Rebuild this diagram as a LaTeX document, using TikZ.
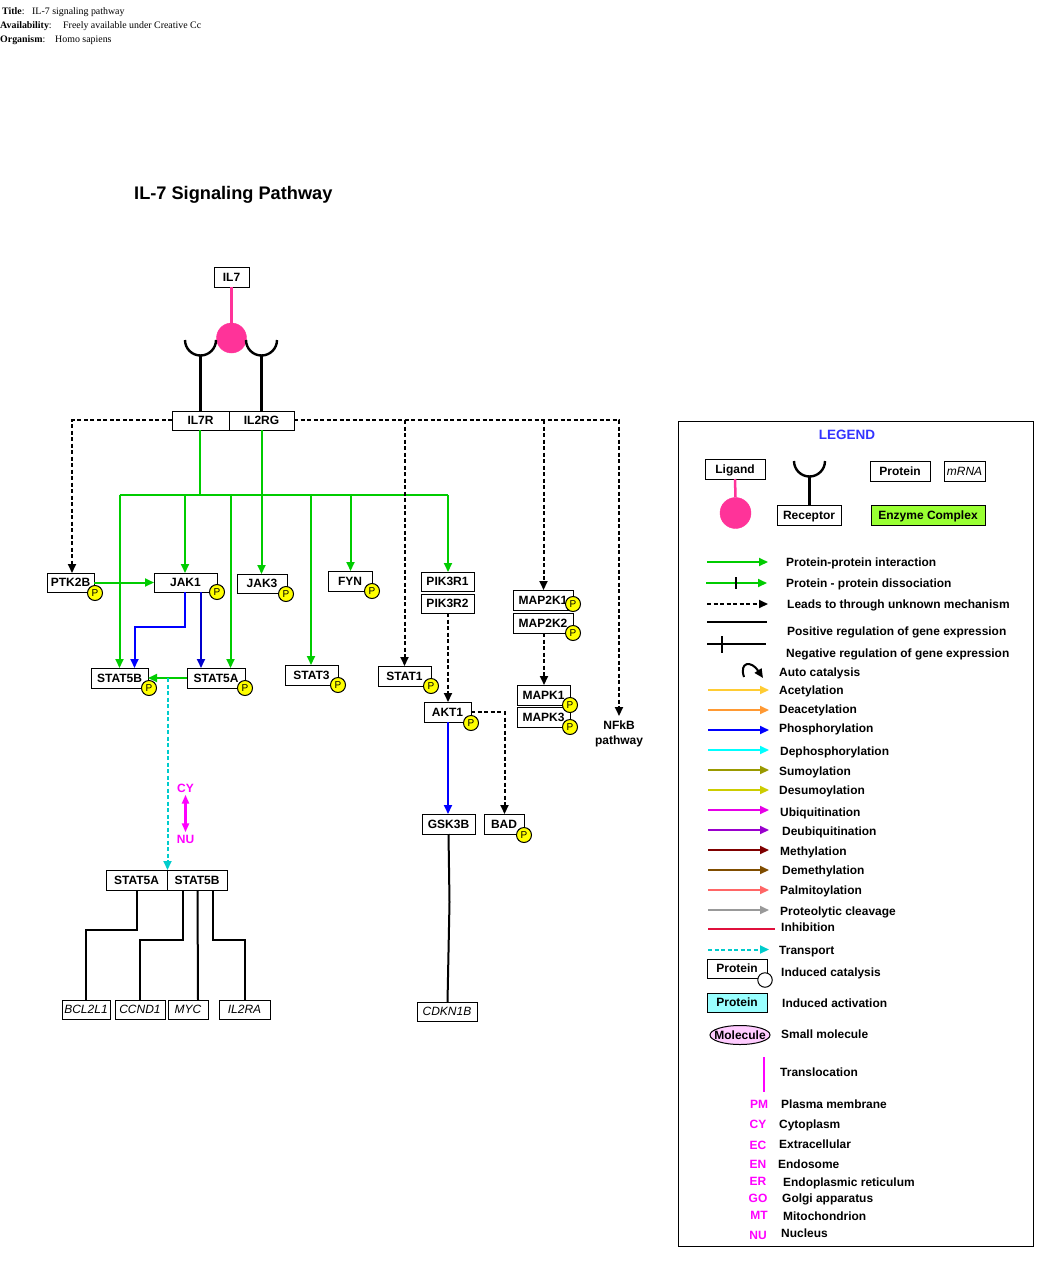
\documentclass[tikz,border=0pt]{standalone}
\usepackage{fontspec}
\setmainfont{Liberation Sans}
\newfontfamily\serifhead{Liberation Serif}
\usetikzlibrary{arrows.meta,shapes.geometric,calc}
\definecolor{grn}{HTML}{00CC00}
\definecolor{blu}{HTML}{0000FF}
\definecolor{dblu}{HTML}{0000CC}
\definecolor{pnk}{HTML}{FF3399}
\definecolor{cyn}{HTML}{00CCCC}
\definecolor{mag}{HTML}{FF00FF}
\definecolor{cya}{HTML}{00FFFF}
\definecolor{lcy}{HTML}{99FFFF}
\definecolor{lgr}{HTML}{99FF33}
\definecolor{lmg}{HTML}{FFCCFF}
\definecolor{ace}{HTML}{FFCC33}
\definecolor{dac}{HTML}{FF9933}
\definecolor{lblu}{HTML}{3333FF}
\definecolor{yel}{HTML}{FFFF00}
\newcommand{\bfn}{\fontsize{12}{14}\selectfont\bfseries}
\newcommand{\bfl}{\fontsize{11.95}{14}\selectfont\bfseries}
\newcommand{\itn}{\fontsize{12}{14}\selectfont\itshape}
\tikzset{
  tip/.style={-{Triangle[length=9pt,width=8pt]}},
  prot/.style={draw,fill=white,line width=1pt,inner sep=0pt,outer sep=0pt,font=\bfn,text height=10pt,text depth=1.5pt},
  gene/.style={prot,font=\itn},
  badge/.style={circle,draw,fill=yel,line width=1pt,inner sep=0pt,minimum size=15pt,font=\fontsize{10}{12}\selectfont},
  gr/.style={draw=grn,line width=2pt,tip},
  grl/.style={draw=grn,line width=2pt},
  bk/.style={draw=black,line width=2pt},
  dsh/.style={draw=black,line width=2pt,dash pattern=on 4pt off 2.5pt,tip},
  bl/.style={draw=blu,line width=2pt,tip},
  db/.style={draw=dblu,line width=2pt,tip},
  trn/.style={draw=cyn,line width=2pt,dash pattern=on 4pt off 2.5pt,tip},
  lab/.style={anchor=west,inner sep=0pt,font=\bfl,text height=10pt,text depth=1.5pt},
  comp/.style={anchor=center,inner sep=0pt,font=\bfn,text=mag,text height=9pt,text depth=0pt},
  head/.style={anchor=west,inner sep=0pt,font=\fontsize{9.9}{12}\selectfont\serifhead,text height=7pt,text depth=0pt},
  cup/.style={draw=black,line width=2.4pt},
  lig/.style={circle,draw=pnk,fill=pnk,inner sep=0pt,minimum size=30pt},
}
\newcommand{\bx}[7][prot]{\node[#1,minimum width={#5-#3},minimum height={#6-#4}] (#2) at ({(#3+#5)/2},{(#4+#6)/2}) {#7};}
\newcommand{\bdg}[3]{\node[badge] (#1) at (#2,#3) {P};}
\newcommand{\leg}[5]{\coordinate (#1a) at (#3,#5); \coordinate (#1b) at (#4,#5);
  \draw[draw=#2,line width=2pt,tip] (#1a) -- (#1b);}
\newcommand{\lt}[4]{\node[lab] (#1) at (#2,#3) {#4};}
\begin{document}
\begin{tikzpicture}[x=1pt,y=-1pt]
\useasboundingbox (0,0) rectangle (1063,1276);
% header
\node[head] (h1) at (2,11) {\textbf{Title}:};
\node[head] (h1v) at (32,11) {IL-7 signaling pathway};
\node[head] (h2) at (0,25) {\textbf{Availability}:};
\node[head] (h2v) at (63,25) {Freely available under Creative Cc};
\node[head] (h3) at (0,39) {\textbf{Organism}:};
\node[head] (h3v) at (55,39) {Homo sapiens};
\node[anchor=west,inner sep=0pt,font=\fontsize{18.2}{20}\selectfont\bfseries,text height=13pt,text depth=0pt] (ttl) at (134,193) {IL-7 Signaling Pathway};
% proteins
\bx{il7}{214}{267}{249}{287}{IL7}
\bx{il7r}{172}{411}{229}{430}{IL7R}
\bx{il2rg}{229}{411}{294}{430}{IL2RG}
\bx{ptk2b}{47}{573}{94}{592}{PTK2B}
\bx{jak1}{154}{573}{217}{592}{JAK1}
\bx{jak3}{237}{574}{287}{593}{JAK3}
\bx{fyn}{328}{571}{372}{591}{FYN}
\bx{pik3r1}{421}{572}{474}{591}{PIK3R1}
\bx{pik3r2}{421}{594}{474}{613}{PIK3R2}
\bx{map2k1}{513}{590}{573}{610}{MAP2K1}
\bx{map2k2}{513}{613}{573}{633}{MAP2K2}
\bx{stat5b}{91}{668}{148}{688}{STAT5B}
\bx{stat5a}{187}{668}{245}{688}{STAT5A}
\bx{stat3}{285}{665}{338}{685}{STAT3}
\bx{stat1}{378}{666}{431}{686}{STAT1}
\bx{akt1}{424}{702}{471}{722}{AKT1}
\bx{mapk1}{517}{685}{570}{705}{MAPK1}
\bx{mapk3}{517}{707}{570}{727}{MAPK3}
\bx{gsk3b}{422}{814}{475}{834}{GSK3B}
\bx{bad}{484}{814}{524}{834}{BAD}
\bx{nstat5a}{106}{870}{167}{890}{STAT5A}
\bx{nstat5b}{167}{870}{227}{890}{STAT5B}
\bx[gene]{bcl}{62}{1000}{110}{1019}{BCL2L1}
\bx[gene]{ccnd}{115}{1000}{165}{1019}{CCND1}
\bx[gene]{myc}{168}{1000}{208}{1019}{MYC}
\bx[gene]{il2ra}{219}{1000}{270}{1019}{IL2RA}
\bx[gene]{cdkn}{417}{1002}{477}{1021}{CDKN1B}
\node[align=center,inner sep=0pt,font=\bfn] (nfkb) at (619,733.5) {NFkB\\[1pt]pathway};
% ligand and receptors
\node[lig] (ligand) at (231.5,338) {};
\draw[draw=pnk,line width=2.5pt] (il7.south) -- (ligand.north);
\coordinate (cupL) at (200.5,356);
\coordinate (cupR) at (261.5,356);
\draw[cup] (185,340) arc[start angle=180,end angle=360,radius=15.5pt];
\draw[cup] (246,340) arc[start angle=180,end angle=360,radius=15.5pt];
\draw[bk,line width=2.6pt] (cupL) -- (cupL |- il7r.north);
\draw[bk,line width=2.6pt] (cupR) -- (cupR |- il2rg.north);
% green tree
\coordinate (tree) at (200,495);
\coordinate (d1) at (119.5,495);
\coordinate (d2) at (185,495);
\coordinate (d3) at (230.5,495);
\coordinate (d4) at (311,495);
\coordinate (d5) at (350.5,495);
\coordinate (d6) at (448,495);
\draw[grl,line width=1.5pt] (tree |- il7r.south) -- (tree);
\draw[grl] (d1) -- (d6);
\draw[gr] (d1) -- (d1 |- stat5b.north);
\draw[gr] (d2) -- (d2 |- jak1.north);
\draw[gr] (d3) -- (d3 |- stat5a.north);
\draw[gr] (d4) -- (d4 |- stat3.north);
\draw[gr] (d5) -- (d5 |- fyn.north);
\draw[gr] (d6) -- (d6 |- pik3r1.north);
\coordinate (j3x) at (261.5,495);
\draw[gr] (j3x |- il2rg.south) -- (j3x |- jak3.north);
% dashed from receptors
\coordinate (lx) at (72,420);
\coordinate (rx) at (619,420);
\coordinate (sx) at (404.5,420);
\coordinate (mx) at (543.5,420);
\draw[dsh] (il7r.west |- lx) -- (lx) -- (lx |- ptk2b.north);
\draw[dsh] (il2rg.east |- rx) -- (rx) -- (rx |- 0,716);
\draw[dsh] (sx) -- (sx |- stat1.north);
\draw[dsh] (mx) -- (mx |- map2k1.north);
\coordinate (px) at (448,650);
\draw[dsh] (px |- pik3r2.south) -- (px |- akt1.north);
\coordinate (kx) at (544,650);
\draw[dsh] (kx |- map2k2.south) -- (kx |- mapk1.north);
\coordinate (bx1) at (504.5,712);
\draw[dsh] (akt1.east |- bx1) -- (bx1) -- (bx1 |- bad.north);
\draw[bl] (px |- akt1.south) -- (px |- gsk3b.north);
% JAK cascade
\draw[gr] (ptk2b) -- (jak1);
\coordinate (jx1) at (185,627);
\coordinate (jx2) at (134.5,627);
\draw[db,draw=blu] (jx1 |- jak1.south) -- (jx1) -- (jx2) -- (jx2 |- stat5b.north);
\coordinate (jx3) at (201,627);
\draw[db] (jx3 |- jak1.south) -- (jx3 |- stat5a.north);
\draw[gr] (stat5a) -- (stat5b);
\coordinate (tx) at (167.5,678);
\draw[trn] (tx) -- (tx |- nstat5a.north);
% CY NU
\node[comp] (cy) at (185.5,788) {CY};
\node[comp] (nu) at (185.5,839) {NU};
\draw[draw=mag,line width=2.5pt,{Triangle[length=9pt,width=7pt]}-{Triangle[length=9pt,width=7pt]}] ($(cy.south)+(0,2)$) -- ($(nu.north)+(0,-2)$);
% gene regulation
\coordinate (g1a) at (136.5,930);
\coordinate (g1b) at (85.5,930);
\coordinate (g2a) at (182.5,940);
\coordinate (g2b) at (140,940);
\coordinate (g3) at (197.5,940);
\coordinate (g4a) at (212.5,940);
\coordinate (g4b) at (244.5,940);
\draw[bk] (g1a |- nstat5a.south) -- (g1a) -- (g1b) -- (g1b |- bcl.north);
\draw[bk] (g2a |- nstat5a.south) -- (g2a) -- (g2b) -- (g2b |- ccnd.north);
\draw[bk] (g3 |- nstat5a.south) -- (198,1000);
\draw[bk] (g4a |- nstat5a.south) -- (g4a) -- (g4b) -- (g4b |- il2ra.north);
\coordinate (g5) at (449.5,902);
\draw[bk] (gsk3b.south) -- (g5) -- (447.5,1002);
% badges
\bdg{pa}{95}{593}
\bdg{pb}{217}{592}
\bdg{pc}{286}{594}
\bdg{pd}{372}{591}
\bdg{pe}{573}{604}
\bdg{pf}{573}{633}
\bdg{pg}{149}{688}
\bdg{ph}{245}{688}
\bdg{pi}{338}{685}
\bdg{pj}{431}{686}
\bdg{pk}{471}{723}
\bdg{pl}{570}{705}
\bdg{pm}{570}{727}
\bdg{pn}{524}{835}
% legend
\node[draw,line width=1pt,minimum width=355pt,minimum height=825pt,inner sep=0pt] (legbox) at (855.5,833.5) {};
\node[inner sep=0pt,font=\fontsize{13.5}{15}\selectfont\bfseries,text=lblu] (legt) at (847,435) {LEGEND};
\bx{lgd}{705}{459}{765}{479}{Ligand}
\node[lig,minimum size=31pt] (lgdc) at (735.5,513) {};
\draw[draw=pnk,line width=2.5pt] (lgd.south) -- (lgdc.north);
\bx{lrc}{777}{505}{841}{525}{Receptor}
\draw[cup] (794,461) arc[start angle=180,end angle=360,radius=15.5pt];
\coordinate (lcup) at (809.5,477);
\draw[bk,line width=2.6pt] (lcup) -- (lcup |- lrc.north);
\bx{lpr}{870}{461}{930}{481}{Protein}
\bx[gene]{lmr}{944}{461}{985}{481}{mRNA}
\bx[prot,fill=lgr]{len}{871}{505}{985}{525}{Enzyme Complex}
\leg{a1}{grn}{707}{768}{562}
\lt{t1}{786}{562}{Protein-protein interaction}
\leg{a2}{grn}{706}{767}{583}
\draw[bk,line width=1.5pt] (736,577) -- (736,589);
\lt{t2}{786}{583}{Protein - protein dissociation}
\coordinate (a3a) at (707,604); \coordinate (a3b) at (768,604);
\draw[dsh] (a3a) -- (a3b);
\lt{t3}{787}{604}{Leads to through unknown mechanism}
\coordinate (a4a) at (707,622); \coordinate (a4b) at (767,622);
\draw[bk] (a4a) -- (a4b);
\lt{t4}{787}{631}{Positive regulation of gene expression}
\coordinate (a5a) at (707,644); \coordinate (a5b) at (766,644);
\draw[bk] (a5a) -- (a5b);
\draw[bk] (722,636) -- (722,653);
\lt{t5}{786}{653}{Negative regulation of gene expression}
\draw[line width=2pt,{}-{Triangle[length=9pt,width=8pt]}] (744,677) .. controls (739,662) and (751,660) .. (763,678);
\lt{t6}{779}{672}{Auto catalysis}
\leg{b1}{ace}{708}{769}{690}
\lt{t7}{779}{690}{Acetylation}
\leg{b2}{dac}{708}{769}{710}
\lt{t8}{779}{709}{Deacetylation}
\leg{b3}{blu}{708}{769}{730}
\lt{t9}{779}{728}{Phosphorylation}
\leg{b4}{cya}{708}{769}{750}
\lt{t10}{780}{751}{Dephosphorylation}
\definecolor{c1}{HTML}{999900}\definecolor{c2}{HTML}{CCCC00}\definecolor{c3}{HTML}{E600E6}
\definecolor{c4}{HTML}{9900CC}\definecolor{c5}{HTML}{800000}\definecolor{c6}{HTML}{804D00}
\definecolor{c7}{HTML}{FF6666}\definecolor{c8}{HTML}{999999}\definecolor{c9}{HTML}{E0103C}
\leg{b5}{c1}{708}{769}{770}
\lt{t11}{779}{771}{Sumoylation}
\leg{b6}{c2}{708}{769}{790}
\lt{t12}{779}{790}{Desumoylation}
\leg{b7}{c3}{708}{769}{810}
\lt{t13}{780}{812}{Ubiquitination}
\leg{b8}{c4}{708}{769}{830}
\lt{t14}{782}{831}{Deubiquitination}
\leg{b9}{c5}{708}{769}{850}
\lt{t15}{780}{851}{Methylation}
\leg{b10}{c6}{708}{769}{870}
\lt{t16}{782}{870}{Demethylation}
\leg{b11}{c7}{708}{769}{890}
\lt{t17}{780}{890}{Palmitoylation}
\leg{b12}{c8}{708}{769}{910}
\lt{t18}{780}{911}{Proteolytic cleavage}
\coordinate (b13a) at (708,929); \coordinate (b13b) at (775,929);
\draw[draw=c9,line width=1.5pt] (b13a) -- (b13b);
\lt{t19}{781}{927}{Inhibition}
\coordinate (b14a) at (708,949.5); \coordinate (b14b) at (769,949.5);
\draw[trn] (b14a) -- (b14b);
\lt{t20}{779}{950}{Transport}
\bx{lic}{707}{959}{767}{978}{Protein}
\node[circle,draw,fill=white,line width=1pt,inner sep=0pt,minimum size=14.5pt] (lica) at (765,980) {};
\lt{t21}{781}{972}{Induced catalysis}
\bx[prot,fill=lcy]{lia}{707}{993}{767}{1012}{Protein}
\lt{t22}{782}{1003}{Induced activation}
\node[ellipse,draw,fill=lmg,line width=1pt,inner sep=0pt,minimum width=60pt,minimum height=19pt] (lsm) at (740,1035) {};
\node[inner sep=0pt,font=\bfn,text height=10pt,text depth=1.5pt] (lsmt) at (740,1035) {Molecule};
\lt{t23}{781}{1034}{Small molecule}
\coordinate (tra) at (763.5,1057); \coordinate (trb) at (763.5,1092);
\draw[draw=mag,line width=2pt] (tra) -- (trb);
\lt{t24}{780}{1072}{Translocation}
\node[comp] (l1) at (759,1104) {PM};
\lt{t25}{781}{1104}{Plasma membrane}
\node[comp] (l2) at (758,1124) {CY};
\lt{t26}{779}{1124}{Cytoplasm}
\node[comp] (l3) at (758,1145) {EC};
\lt{t27}{779}{1144}{Extracellular}
\node[comp] (l4) at (758,1164) {EN};
\lt{t28}{778}{1164}{Endosome}
\node[comp] (l5) at (758,1181) {ER};
\lt{t29}{783}{1182}{Endoplasmic reticulum}
\node[comp] (l6) at (758,1198) {GO};
\lt{t30}{782}{1198}{Golgi apparatus}
\node[comp] (l7) at (759,1215) {MT};
\lt{t31}{783}{1216}{Mitochondrion}
\node[comp] (l8) at (758,1235) {NU};
\lt{t32}{781}{1233}{Nucleus}
\end{tikzpicture}
\end{document}
